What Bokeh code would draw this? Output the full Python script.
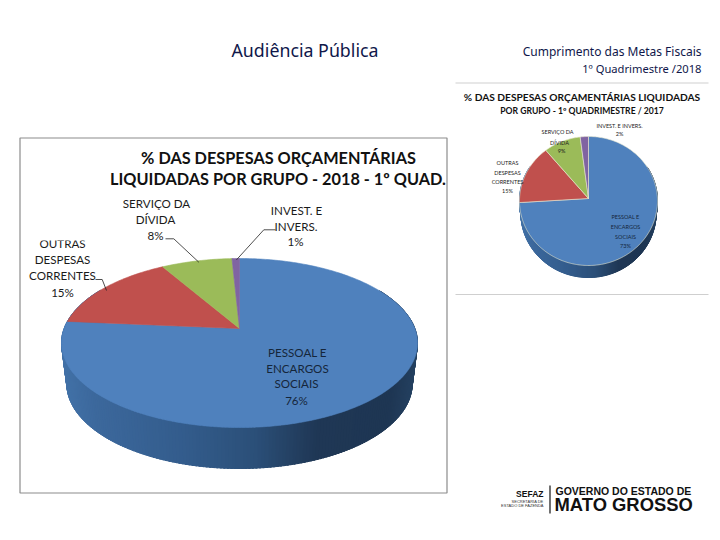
import math
from bokeh.plotting import figure
from bokeh.models import Range1d
from bokeh.core.properties import value
from bokeh.embed import file_html
from bokeh.resources import INLINE

# ---- data ----
groups = ["PESSOAL E ENCARGOS SOCIAIS", "OUTRAS DESPESAS CORRENTES", "SERVIÇO DA DÍVIDA", "INVEST. E INVERS."]
share_2018 = [76.4, 15.2, 7.6, 0.8]
share_2017 = [74.0, 15.0, 9.0, 2.0]
labels_2018 = ["76%", "15%", "8%", "1%"]
labels_2017 = ["73%", "15%", "9%", "2%"]
slice_colors = ["#4f81bd", "#c0504d", "#9bbb59", "#8064a2"]

p = figure(width=712, height=532, x_range=Range1d(0, 712), y_range=Range1d(532, 0),
           output_backend="svg", toolbar_location=None, min_border=0)
p.xaxis.visible = False
p.yaxis.visible = False
p.grid.visible = False
p.outline_line_color = None
p.background_fill_color = "white"
p.border_fill_color = "white"


def lerp_color(stops, f):
    for (a, ca), (b, cb) in zip(stops, stops[1:]):
        if f <= b:
            k = (f - a) / (b - a)
            c = [int(round(int(ca[i:i+2], 16) * (1 - k) + int(cb[i:i+2], 16) * k)) for i in (1, 3, 5)]
            return "#%02x%02x%02x" % tuple(c)
    return stops[-1][1]


SIDE_STOPS = [(0.0, "#4272a8"), (0.1, "#3c689c"), (0.35, "#335c8c"), (0.55, "#2b4f78"), (0.72, "#1f3755"), (0.92, "#1e3653"), (1.0, "#254262")]


def draw_pie(values, cx, apex, top, bottom, half_w, depth, side_scale, edge=None):
    c = (2 * apex - top - bottom) / (bottom - top)
    a = apex - top + top * c
    r = half_w * math.sqrt(1 - c * c)

    def rim(deg, dy=0.0, sx=1.0):
        t = math.radians(deg)
        w = 1 + (-c) * math.cos(t)
        return cx + sx * r * math.sin(t) / w, (apex - a * math.cos(t)) / w + dy

    xs, ys, cols = [], [], []
    for d in range(60, 300):
        x0, y0 = rim(d)
        x1, y1 = rim(d + 1.5)
        x2, y2 = rim(d + 1.5, depth, side_scale)
        x3, y3 = rim(d, depth, side_scale)
        xs.append([x0, x1, x2, x3])
        ys.append([y0, y1, y2, y3])
        cols.append(lerp_color(SIDE_STOPS, ((x0 + x3) / 2 - cx + half_w) / (2 * half_w)))
    p.patches(xs, ys, fill_color=cols, line_color=cols, line_width=1)

    total = sum(values)
    start = 0.0
    wx, wy = [], []
    for v in values:
        end = start + v / total * 360
        n = max(2, int(end - start) + 2)
        pts = [rim(start + (end - start) * i / (n - 1)) for i in range(n)]
        wx.append([cx] + [q[0] for q in pts])
        wy.append([apex] + [q[1] for q in pts])
        start = end
    p.patches(wx, wy, fill_color=slice_colors, line_color=edge if edge else slice_colors, line_width=0.6)
    return rim


def put(texts, xs, ys, size, color="#1a1a1a", font="Lato", style="normal", align="center"):
    p.text(xs, ys, text=texts, text_font=value(font), text_font_size=size, text_color=color,
           text_font_style=style, text_align=align, text_baseline="middle")


# chart frame
p.quad(left=[19.5], right=[446.5], top=[137.5], bottom=[492.5], fill_color="white", line_color="#8c8c8c", line_width=1.2)
# rules
p.segment([455, 455], [82.5, 294], [708, 708], [82.5, 294], line_color="#cfcfcf", line_width=1)

# headings
put(["Audiência Pública"], [304.5], [49.5], "17.8px", color="#10174a", font="Noto Sans")
put(["Cumprimento das Metas Fiscais"], [701], [50.5], "12px", color="#10174a", font="Noto Sans", align="right")
put(["1º Quadrimestre /2018"], [701], [68], "11.2px", color="#10174a", font="Noto Sans", align="right")

# big pie
rim18 = draw_pie(share_2018, 239, 328, 258, 427, 178, 41, 0.97)
put(["% DAS DESPESAS ORÇAMENTÁRIAS"], [278], [157], "16.3px", color="#111111", style="bold")
put(["LIQUIDADAS POR GRUPO - 2018 - 1º QUAD."], [277.5], [178], "16.3px", color="#111111", style="bold")

put(["PESSOAL E", "ENCARGOS", "SOCIAIS", labels_2018[0]], [297, 297, 296, 296], [352, 368, 383, 400], "11.6px", color="#15263a")
put(["OUTRAS", "DESPESAS", "CORRENTES", labels_2018[1]], [62, 62, 62, 62], [243, 259, 275, 292], "11.6px")
put(["SERVIÇO DA", "DÍVIDA", labels_2018[2]], [156, 155, 155], [203, 219, 235], "11.6px")
put(["INVEST. E", "INVERS.", labels_2018[3]], [296, 295.5, 295], [210, 226, 241], "11.6px")
p.quad(left=[30], right=[100], top=[232], bottom=[240], fill_color="white", line_color=None)

p.multi_line([[95, 101.7, 106], [165, 173.3, 198.3], [275, 263.3, 236]],
             [[279, 279, 290], [238.3, 238.3, 261.7], [229.3, 229.3, 259.3]],
             line_color="#222222", line_width=0.8)

# small pie
rim17 = draw_pie(share_2017, 588, 198, 136, 265, 69, 12, 0.98, edge="#e8e8d0")
put(["% DAS DESPESAS ORÇAMENTÁRIAS LIQUIDADAS"], [581.5], [96], "10.2px", color="#111111", style="bold")
put(["POR GRUPO - 1º QUADRIMESTRE / 2017"], [581.5], [110.5], "8.6px", color="#111111", style="bold")
put(["PESSOAL E", "ENCARGOS", "SOCIAIS", labels_2017[0]], [625] * 4, [216, 226, 236, 245], "5.5px", color="#15263a")
put(["OUTRAS", "DESPESAS", "CORRENTES", labels_2017[1]], [507] * 4, [162, 172, 181, 190], "5.5px")
put(["SERVIÇO DA", "DÍVIDA", labels_2017[2]], [557, 559, 561], [131, 142, 150], "5.5px")
put(["INVEST. E INVERS.", labels_2017[3]], [619, 619], [125, 133], "5.5px")

# logo
p.segment([549.5], [485], [549.5], [513], line_color="#111111", line_width=1.2)
put(["SEFAZ"], [543], [493.5], "8.5px", color="#111111", font="Liberation Sans", style="bold", align="right")
put(["SECRETARIA DE"], [543], [500.5], "4px", color="#333333", font="Liberation Sans", align="right")
put(["ESTADO DE FAZENDA"], [543], [505], "4px", color="#333333", font="Liberation Sans", align="right")
put(["GOVERNO DO ESTADO DE"], [555], [490.5], "10.5px", color="#111111", font="Liberation Sans", style="bold", align="left")
put(["MATO GROSSO"], [554], [504], "18.4px", color="#111111", font="Liberation Sans", style="bold", align="left")

open("out.html", "w").write(file_html(p, INLINE))
